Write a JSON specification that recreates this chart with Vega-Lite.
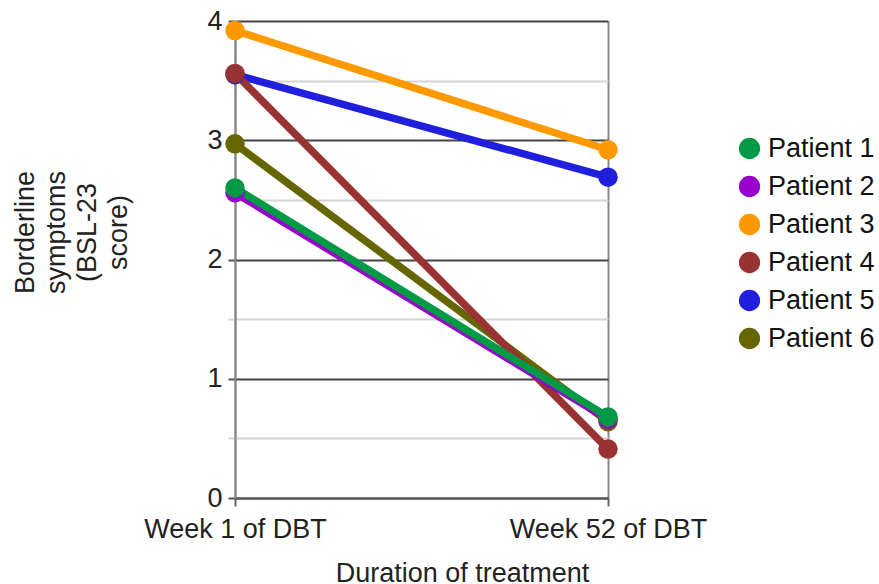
{
  "$schema": "https://vega.github.io/schema/vega-lite/v6.json",
  "width": 373,
  "height": 477,
  "autosize": "none",
  "padding": {"left": 235, "top": 21, "right": 271, "bottom": 86},
  "background": "white",
  "config": {
    "font": "Liberation Sans",
    "view": {"stroke": null}
  },
  "data": {
    "values": [
      {"patient": "Patient 6", "week": "Week 1 of DBT", "score": 2.97},
      {"patient": "Patient 6", "week": "Week 52 of DBT", "score": 0.64},
      {"patient": "Patient 5", "week": "Week 1 of DBT", "score": 3.55},
      {"patient": "Patient 5", "week": "Week 52 of DBT", "score": 2.69},
      {"patient": "Patient 4", "week": "Week 1 of DBT", "score": 3.56},
      {"patient": "Patient 4", "week": "Week 52 of DBT", "score": 0.41},
      {"patient": "Patient 3", "week": "Week 1 of DBT", "score": 3.92},
      {"patient": "Patient 3", "week": "Week 52 of DBT", "score": 2.92},
      {"patient": "Patient 2", "week": "Week 1 of DBT", "score": 2.56},
      {"patient": "Patient 2", "week": "Week 52 of DBT", "score": 0.66},
      {"patient": "Patient 1", "week": "Week 1 of DBT", "score": 2.60},
      {"patient": "Patient 1", "week": "Week 52 of DBT", "score": 0.68}
    ]
  },
  "encoding": {
    "x": {
      "field": "week",
      "type": "ordinal",
      "sort": ["Week 1 of DBT", "Week 52 of DBT"],
      "scale": {"type": "point", "padding": 0},
      "axis": {
        "title": "Duration of treatment",
        "titleFontSize": 27,
        "titleFontWeight": "normal",
        "titleColor": "#222",
        "titleX": 227,
        "titleY": 83,
        "titleAlign": "center",
        "titleBaseline": "alphabetic",
        "labelAngle": 0,
        "labelFontSize": 27,
        "labelColor": "#222",
        "labelPadding": 10,
        "labelLimit": 400,
        "labelOverlap": false,
        "tickSize": 8,
        "tickWidth": 2,
        "tickColor": "#666",
        "domainColor": "#555",
        "domainWidth": 2,
        "grid": true,
        "gridColor": "#888",
        "gridWidth": 2
      }
    },
    "y": {
      "field": "score",
      "type": "quantitative",
      "scale": {"domain": [0, 4], "nice": false},
      "axis": {
        "title": ["Borderline", "symptoms", "(BSL-23", "score)"],
        "titleFontSize": 27,
        "titleLineHeight": 31,
        "titleFontWeight": "normal",
        "titleColor": "#222",
        "titleAngle": -90,
        "titleAlign": "center",
        "titleBaseline": "middle",
        "titleX": -210,
        "titleY": 211,
        "values": [0, 0.5, 1, 1.5, 2, 2.5, 3, 3.5, 4],
        "labelExpr": "datum.value % 1 === 0 ? format(datum.value, 'd') : ''",
        "labelFontSize": 27,
        "labelColor": "#222",
        "labelPadding": 6,
        "tickSize": 7,
        "tickWidth": 2,
        "tickColor": {"condition": {"test": "datum.value % 1 !== 0", "value": "#d4d4d4"}, "value": "#555"},
        "grid": true,
        "gridColor": {"condition": {"test": "datum.value % 1 !== 0", "value": "#d4d4d4"}, "value": "#444"},
        "gridWidth": 2,
        "domainColor": "#888",
        "domainWidth": 2
      }
    },
    "color": {
      "field": "patient",
      "type": "nominal",
      "scale": {
        "domain": ["Patient 1", "Patient 2", "Patient 3", "Patient 4", "Patient 5", "Patient 6"],
        "range": ["#009a46", "#9a00cc", "#ff9900", "#993333", "#1f1fdd", "#666600"]
      },
      "legend": {
        "title": null,
        "orient": "none",
        "legendX": 501,
        "legendY": 114,
        "padding": 0,
        "symbolType": "circle",
        "symbolSize": 452,
        "symbolStrokeWidth": 0,
        "symbolOpacity": 1,
        "labelFontSize": 27,
        "labelColor": "#111",
        "labelOffset": 5,
        "rowPadding": 10,
        "labelLimit": 300,
        "encode": {
          "symbols": {
            "update": {
              "fill": {"scale": "color", "field": "value"},
              "stroke": {"value": "transparent"}
            }
          }
        }
      }
    }
  },
  "layer": [
    {
      "mark": {"type": "line", "strokeWidth": 7.5}
    },
    {
      "mark": {"type": "point", "shape": "circle", "filled": true, "opacity": 1, "size": 380}
    }
  ]
}
